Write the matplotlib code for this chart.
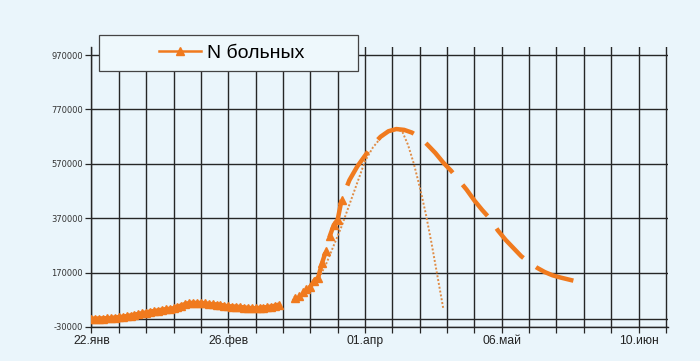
import numpy as np
import matplotlib
matplotlib.use("Agg")
import matplotlib.pyplot as plt
import matplotlib.dates as mdates
from matplotlib.lines import Line2D
from matplotlib.patches import Rectangle

# ---------------- data ----------------
start_date = np.datetime64("2020-01-22")

# actual counts, daily from 22 Jan (day 0 .. 48)
actual_early = [500, 600, 900, 1200, 2000, 2700, 4500, 6000, 7500, 9500,
                12000, 15000, 17500, 20500, 23000, 26500, 28000, 30500, 33000, 35000,
                36500, 38500, 44000, 49000, 54000, 57500, 58500, 58000, 58500, 57000,
                54500, 53500, 52500, 51000, 48000, 46000, 45000, 44500, 43000, 41500,
                40000, 39000, 38500, 40000, 41500, 42500, 45000, 48000, 52000]

# actual counts, later period (day offsets from 22 Jan)
actual_late_days = [52, 53, 54, 55, 56, 57, 58, 59, 60, 61, 62, 63, 64]
actual_late = [75000, 85000, 98000, 108000, 118000, 140000, 152000, 205000,
               250000, 305000, 345000, 365000, 437000]

# forecast (thick dashed)
forecast_days = [64, 66, 68, 70, 72, 74, 76, 78, 80, 82, 84, 86, 88, 90, 92, 94,
                 96, 98, 100, 102, 104, 106, 108, 110, 112, 114, 116, 118, 120,
                 122, 124, 125]
forecast = [437000, 510000, 560000, 600000, 640000, 670000, 690000, 698000,
            695000, 685000, 668000, 640000, 610000, 575000, 545000, 510000,
            475000, 435000, 400000, 368000, 325000, 290000, 260000, 230000,
            208000, 188000, 172000, 160000, 152000, 145000, 138000, 135000]

# alternative forecast (thin dotted)
alt_days = [51.4, 54, 56, 58, 60, 62, 64, 66, 68, 70, 72, 74, 76, 78, 79.5,
            81, 82.5, 84, 85.5, 87, 88.5, 90]
alt_vals = [69000, 90000, 115000, 145000, 200000, 270000, 340000, 420000,
            500000, 580000, 630000, 665000, 688000, 697000, 690000, 640000,
            570000, 485000, 390000, 280000, 160000, 40000]

series_label = "N больных"
yticks = [-30000, 170000, 370000, 570000, 770000, 970000]
xtick_dates = ["2020-01-22", "2020-02-26", "2020-04-01", "2020-05-06", "2020-06-10"]
xtick_labels = ["22.янв", "26.фев", "01.апр", "06.май", "10.июн"]

# ---------------- style ----------------
BG = "#eaf5fb"
ORANGE = "#f07a1e"
DOT = "#e08c45"
GRID = "#262626"
LW = 3.2
DASH_PX, GAP_PX = 40.0, 15.5


def to_dates(days):
    return start_date + (np.array(days, dtype=float) * 86400).astype("timedelta64[s]")


fig = plt.figure(figsize=(7.0, 3.61), dpi=100, facecolor=BG)
ax = fig.add_axes([0.1307, 0.0942, 0.8236, 0.7758])
ax.set_facecolor(BG)

x0 = start_date.astype("datetime64[s]")
ax.set_xlim(x0, x0 + np.timedelta64(148 * 86400 - 40000, "s"))
ax.set_ylim(-30000, 1000000)

early_x = (start_date + np.arange(len(actual_early)).astype("timedelta64[D]")).astype("datetime64[s]")

# early actual data: line + dense triangle markers
ax.plot(early_x, actual_early, color=ORANGE, lw=3.4, marker="^", ms=6,
        mec=ORANGE, mfc=ORANGE, solid_capstyle="butt", zorder=4)

# later actual + forecast as one long-dashed thick line
line_days = actual_late_days + forecast_days[1:]
line_vals = actual_late + forecast[1:]
line_x = to_dates(line_days)

# dash phase: a gap should begin right where the actual data ends (day 64)
pts = ax.transData.transform(np.column_stack([mdates.date2num(line_x),
                                              np.array(line_vals, float)]))
seg = np.hypot(np.diff(pts[:, 0]), np.diff(pts[:, 1]))
cum = np.concatenate([[0], np.cumsum(seg)])
L_end_actual = cum[len(actual_late_days) - 1]
period = DASH_PX + GAP_PX
offset_px = (DASH_PX - L_end_actual) % period
px2unit = 72.0 / 100.0 / LW  # px -> points -> units of linewidth
ls = (offset_px * px2unit, (DASH_PX * px2unit, GAP_PX * px2unit))

ax.plot(line_x, line_vals, color=ORANGE, lw=LW, ls=ls,
        dash_capstyle="butt", zorder=4)
ax.plot(to_dates(actual_late_days), actual_late, ls="none", marker="^", ms=5.5,
        color=ORANGE, zorder=4)

# thin dotted curve
ax.plot(to_dates(alt_days), alt_vals, color=DOT, lw=1.4, ls=(0, (1, 1.0)), zorder=3)

# ticks
weekly = x0 + (np.arange(0, 148, 7) * 86400).astype("timedelta64[s]")
major = np.array(xtick_dates, dtype="datetime64[s]")
ax.set_xticks(major)
ax.set_xticklabels(xtick_labels, fontsize=8.7, family="Liberation Sans", color="#222222")
ax.set_xticks(weekly, minor=True)
ax.set_yticks(yticks)
ax.set_yticklabels([str(v) for v in yticks], fontsize=6, family="DejaVu Sans",
                   color="#333333")
ax.tick_params(axis="both", which="both", length=4, width=0.9, color=GRID)
ax.tick_params(axis="x", which="major", pad=2)
ax.tick_params(axis="y", pad=2)

ax.grid(True, which="both", axis="x", color=GRID, lw=1.0)
ax.grid(True, which="major", axis="y", color=GRID, lw=1.0)
ax.axhline(0, color=GRID, lw=1.0, zorder=1)
ax.set_axisbelow(True)

for s in ["top", "right"]:
    ax.spines[s].set_visible(False)
for s in ["left", "bottom"]:
    ax.spines[s].set_color(GRID)
    ax.spines[s].set_linewidth(1.0)

# legend box
box = Rectangle((0.1414, 0.8033), 0.370, 0.0997, transform=fig.transFigure,
                facecolor="#eef8fc", edgecolor="#444444", lw=0.9, zorder=5)
fig.patches.append(box)
handle = Line2D([], [], color=ORANGE, lw=1.8, marker="^", ms=6)
leg = fig.legend([handle], [series_label], loc="center",
                 bbox_to_anchor=(0.331, 0.853), frameon=False,
                 prop={"family": "Liberation Sans", "size": 14},
                 handlelength=2.15, handletextpad=0.35)
leg.set_zorder(6)

fig.savefig("out.png", dpi=100, facecolor=BG)
